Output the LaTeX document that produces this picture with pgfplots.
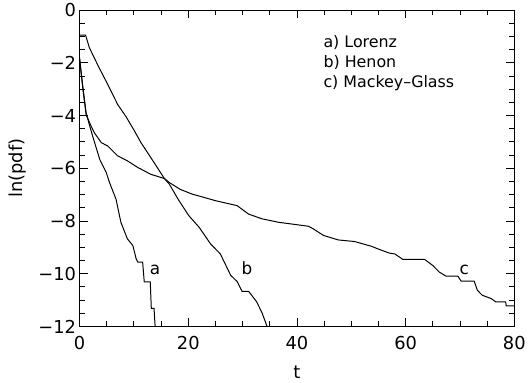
\documentclass[border=0pt]{standalone}
\usepackage{fontspec}
\setmainfont{DejaVu Sans}
\usepackage{pgfplots}
\pgfplotsset{compat=1.18}
\begin{document}
\begin{tikzpicture}
\begin{axis}[
  at={(0,0)}, anchor=south west,
  scale only axis, width=437bp, height=318bp,
  xmin=0, xmax=80, ymin=-12, ymax=0,
  xtick={0,20,40,60,80},
  xticklabels={0,20,40,60,80},
  minor xtick={5,10,15,25,30,35,45,50,55,65,70,75},
  ytick={-12,-10,-8,-6,-4,-2,0},
  yticklabels={−12,−10,−8,−6,−4,−2,0},
  minor ytick={-11.5,-11,-10.5,-9.5,-9,-8.5,-7.5,-7,-6.5,-5.5,-5,-4.5,-3.5,-3,-2.5,-1.5,-1,-0.5},
  tick align=inside,
  major tick length=8bp, minor tick length=5bp,
  axis line style={line width=1.1pt},
  tick style={draw=black, line width=0.9pt},
  tick label style={font=\fontsize{18}{20}\selectfont},
  xticklabel style={yshift=-6bp},
  xlabel={t}, ylabel={ln(pdf)},
  label style={font=\fontsize{18}{20}\selectfont},
  xlabel style={at={(axis description cs:0.5,-0.145)}, anchor=center},
  ylabel style={at={(axis description cs:-0.142,0.5)}, anchor=center},
]
% a) Lorenz
\addplot[black, no markers, line width=1pt] coordinates {(0,-1.85) (0.3,-2.4) (0.6,-2.9) (1.2,-3.9) (1.8,-4.35) (2.4,-4.78) (3.7,-5.66) (4.9,-6.16) (5.5,-6.54) (6.7,-7.17) (7.6,-8.05) (8.8,-8.68) (9.8,-8.93) (10.4,-9.43) (10.7,-9.56) (11.6,-9.56) (11.9,-10.31) (13,-10.31) (13.2,-11.32) (13.7,-11.32) (13.9,-12)};
% b) Henon
\addplot[black, no markers, line width=1pt] coordinates {(0,-0.95) (1.1,-0.95) (1.8,-1.43) (3.5,-2.15) (5.2,-2.83) (7.0,-3.58) (8.5,-4.03) (10,-4.55) (11.3,-5.03) (13.5,-5.72) (15.6,-6.39) (16.5,-6.6) (18.2,-7.2) (20.1,-7.8) (22,-8.24) (24.1,-8.87) (25.9,-9.25) (27.8,-10.06) (29,-10.3) (29.9,-10.67) (31.1,-10.67) (32.6,-11.07) (33.6,-11.5) (34.5,-12)};
% c) Mackey-Glass
\addplot[black, no markers, line width=1pt] coordinates {(0,-1.8) (0.6,-3.0) (1.2,-3.96) (2.0,-4.35) (2.7,-4.65) (4,-5.03) (5.2,-5.16) (7,-5.53) (8.8,-5.72) (10.7,-5.97) (13.1,-6.23) (15.6,-6.39) (16.5,-6.54) (18.5,-6.8) (20.7,-6.98) (25,-7.23) (29,-7.42) (31.1,-7.74) (33.6,-7.92) (36.6,-8.05) (42.1,-8.2) (43,-8.3) (44.9,-8.55) (47.6,-8.72) (50.6,-8.78) (53.7,-8.96) (54.9,-9.06) (57,-9.22) (58,-9.25) (59.5,-9.46) (63.5,-9.46) (65,-9.69) (66.2,-9.94) (67.4,-10.09) (69.6,-10.09) (70.2,-10.28) (72.6,-10.28) (73.2,-10.63) (74.1,-10.82) (75.7,-10.94) (76.6,-11.07) (78.4,-11.07) (78.5,-11.22) (80,-11.22)};
\node[anchor=base, font=\fontsize{17}{19}\selectfont, inner sep=0pt] at (axis cs:13.9,-10.04) {a};
\node[anchor=base, font=\fontsize{17}{19}\selectfont, inner sep=0pt] at (axis cs:30.8,-10.04) {b};
\node[anchor=base, font=\fontsize{17}{19}\selectfont, inner sep=0pt] at (axis cs:70.8,-10.04) {c};
\node[anchor=base west, font=\fontsize{16}{19}\selectfont, inner sep=0pt] at (axis cs:44.85,-1.43) {a) Lorenz};
\node[anchor=base west, font=\fontsize{16}{19}\selectfont, inner sep=0pt] at (axis cs:44.85,-2.19) {b) Henon};
\node[anchor=base west, font=\fontsize{16}{19}\selectfont, inner sep=0pt] at (axis cs:44.85,-2.94) {c) Mackey–Glass};
\end{axis}
\path (-80bp,-56bp) rectangle (449bp,328bp);
\end{tikzpicture}
\end{document}
